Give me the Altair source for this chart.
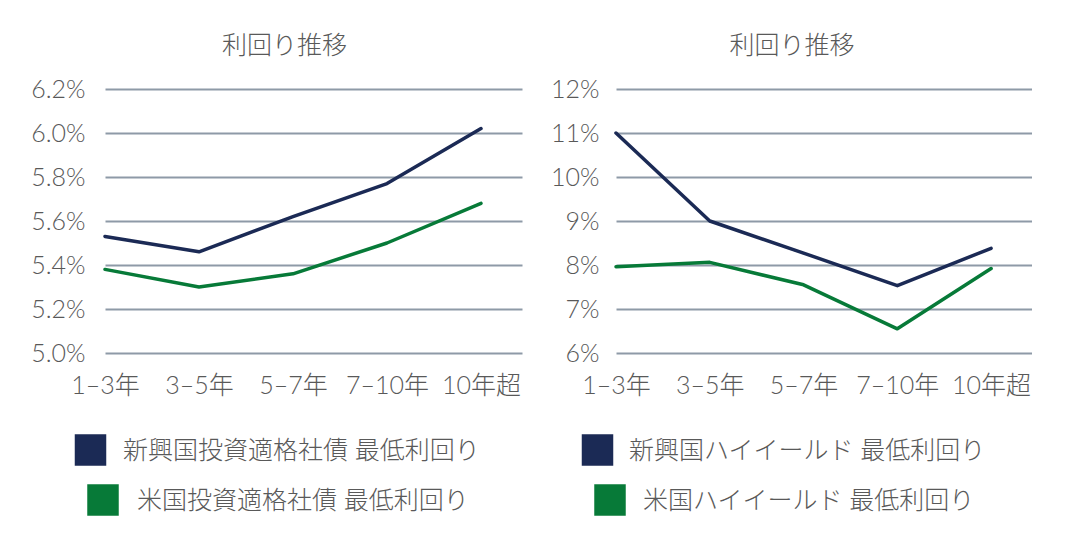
import altair as alt
import pandas as pd

categories = ["1–3年", "3–5年", "5–7年", "7–10年", "10年超"]

left_em = [5.53, 5.46, 5.62, 5.77, 6.02]
left_us = [5.38, 5.30, 5.36, 5.50, 5.68]
left_names = ["新興国投資適格社債 最低利回り", "米国投資適格社債 最低利回り"]
left_ticks = [5.0, 5.2, 5.4, 5.6, 5.8, 6.0, 6.2]

right_em = [11.0, 9.0, 8.27, 7.53, 8.38]
right_us = [7.96, 8.06, 7.55, 6.55, 7.92]
right_names = ["新興国ハイイールド 最低利回り", "米国ハイイールド 最低利回り"]
right_ticks = [6, 7, 8, 9, 10, 11, 12]

title_text = "利回り推移"

NAVY = "#1B2A55"
GREEN = "#077A38"
TEXT = "#595959"
GRID = "#8E9AA7"
FONT = "Lato, 'Noto Sans CJK JP', sans-serif"
FS = 25
FW = 300


def panel(em, us, names, ticks, label_expr, width, extent, lab_pad, title_dx, leg):
    df = pd.DataFrame({
        "cat": categories * 2,
        "val": em + us,
        "series": [names[0]] * len(categories) + [names[1]] * len(categories),
    })
    color_scale = alt.Scale(domain=names, range=[NAVY, GREEN])
    lines = alt.Chart(df).mark_line(strokeWidth=3.5, strokeCap="round", strokeJoin="round").encode(
        x=alt.X("cat:N", sort=categories,
                scale=alt.Scale(type="point", padding=0.218, align=0),
                axis=alt.Axis(title=None, labelAngle=0, domain=False, ticks=False,
                              labelPadding=20, labelFontSize=FS, labelColor=TEXT,
                              labelFont=FONT, labelFontWeight=FW, grid=False)),
        y=alt.Y("val:Q",
                scale=alt.Scale(domain=[ticks[0], ticks[-1]], nice=False, zero=False),
                axis=alt.Axis(title=None, values=ticks, labelExpr=label_expr,
                              domain=False, ticks=False, grid=True, gridColor=GRID,
                              gridWidth=2, labelPadding=lab_pad, labelFontSize=FS,
                              labelColor=TEXT, labelFont=FONT, labelFontWeight=FW,
                              minExtent=extent, maxExtent=extent)),
        color=alt.Color("series:N", scale=color_scale, legend=None),
        detail="series:N",
    )
    leg_df = pd.DataFrame({"name": names, "row": [0, 1]})
    layers = [lines]
    for i in range(2):
        sx, sy, tx, ty = leg[i]
        base = alt.Chart(leg_df).transform_filter(alt.datum.row == i)
        layers.append(base.mark_square(size=31 * 32, opacity=1, filled=True).encode(
            x=alt.value(sx), y=alt.value(sy),
            color=alt.Color("name:N", scale=color_scale, legend=None)))
        layers.append(base.mark_text(align="left", baseline="middle", fontSize=FS,
                                     font=FONT, fontWeight=FW, color=TEXT).encode(
            x=alt.value(tx), y=alt.value(ty), text="name:N"))
    return alt.layer(*layers).properties(
        width=width, height=264,
        title=alt.TitleParams(title_text, fontSize=FS, font=FONT, color=TEXT,
                              fontWeight=FW, anchor="middle", dx=title_dx,
                              offset=18),
    )


left = panel(left_em, left_us, left_names, left_ticks,
             "format(datum.value, '.1f') + '%'", 417, 97, 20, -29,
             [(-14.5, 361, 18, 362), (-2, 411, 32, 412)])
right = panel(right_em, right_us, right_names, right_ticks,
              "format(datum.value, 'd') + '%'", 416, 60, 17, -32,
              [(-18.5, 361, 13, 362), (-6, 411, 27, 412)])

chart = alt.hconcat(left, right, spacing=28).properties(
    padding={"left": 0, "top": 26, "right": 0, "bottom": 0}, background="white"
).configure_view(stroke=None)

chart.save("out.html", embed_options={"renderer": "svg", "actions": False})
